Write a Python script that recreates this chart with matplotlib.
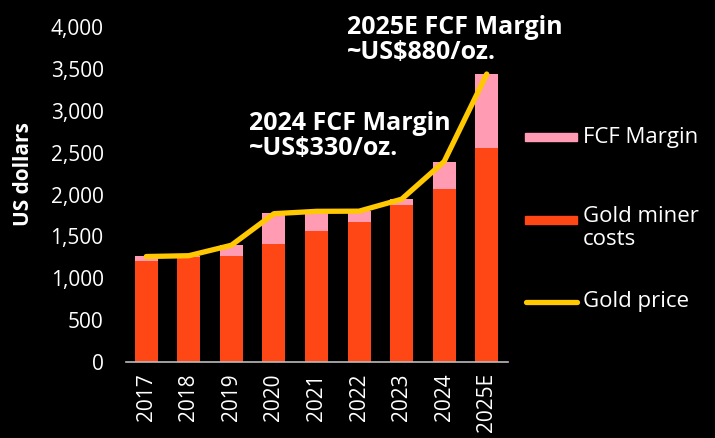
import matplotlib
matplotlib.use("Agg")
import matplotlib.pyplot as plt
from matplotlib.patches import Rectangle
from matplotlib.lines import Line2D

plt.rcParams['font.family'] = ['Open Sans', 'DejaVu Sans']

anios = ["2017", "2018", "2019", "2020", "2021", "2022", "2023", "2024", "2025E"]
costos = [1210, 1258, 1262, 1405, 1564, 1668, 1875, 2066, 2551]
margen = [56, 12, 135, 370, 230, 132, 71, 318, 884]
precio = [1260, 1270, 1395, 1772, 1800, 1802, 1945, 2395, 3440]

NARANJA = "#FF4716"
ROSA = "#FF9BB3"
AMARILLO = "#FFC800"

fig = plt.figure(figsize=(7.15, 4.38), dpi=100, facecolor="black")
ax = fig.add_axes([0.176, 0.1735, 0.5345, 0.7645], facecolor="black")

x = range(len(anios))
ax.bar(x, costos, width=0.54, color=NARANJA, zorder=2)
ax.bar(x, margen, width=0.54, bottom=costos, color=ROSA, zorder=2)
ax.plot(x, precio, color=AMARILLO, lw=3.8, solid_capstyle="round",
        solid_joinstyle="round", zorder=3)

ax.set_xlim(-0.48, 8.5)
ax.set_ylim(0, 4000)
ax.set_yticks(range(0, 4001, 500))
ax.set_yticklabels([f"{v:,}" for v in range(0, 4001, 500)])
ax.set_xticks(list(x))
ax.set_xticklabels(anios, rotation=90)
ax.tick_params(colors="white", labelsize=15, length=0)
ax.tick_params(axis="y", pad=16)
ax.tick_params(axis="x", pad=8)
for lado in ("top", "right", "left"):
    ax.spines[lado].set_visible(False)
ax.spines["bottom"].set_color("#bbbbbb")
ax.spines["bottom"].set_linewidth(1.2)
ax.set_ylabel("US dollars", color="white", fontsize=15, fontweight="bold")
ax.yaxis.set_label_coords(-0.24, 0.56)

ax.text(2.41, 2995, "2024 FCF Margin\n~US$330/oz.", color="white",
        fontsize=18, fontweight="bold", va="top", ha="left", linespacing=1.0)
ax.text(4.72, 4150, "2025E FCF Margin\n~US$880/oz.", color="white",
        fontsize=18, fontweight="bold", va="top", ha="left", linespacing=1.0,
        clip_on=False)

# leyenda a mano
fig.add_artist(Rectangle((525 / 715, 1 - 141 / 438), 52 / 715, 8 / 438,
                         transform=fig.transFigure, color=ROSA))
fig.text(583 / 715, 1 - 137 / 438, "FCF Margin", color="white", fontsize=16,
         va="center", ha="left")
fig.add_artist(Rectangle((525 / 715, 1 - 224 / 438), 52 / 715, 8 / 438,
                         transform=fig.transFigure, color=NARANJA))
fig.text(583 / 715, 1 - 206 / 438, "Gold miner\ncosts", color="white",
         fontsize=16, va="top", ha="left", linespacing=1.1)
fig.add_artist(Line2D([526 / 715, 577 / 715], [1 - 302 / 438, 1 - 302 / 438],
                      transform=fig.transFigure, color=AMARILLO, lw=3.8,
                      solid_capstyle="round"))
fig.text(583 / 715, 1 - 302 / 438, "Gold price", color="white", fontsize=16,
         va="center", ha="left")

fig.savefig("out.png", dpi=100, facecolor="black")
